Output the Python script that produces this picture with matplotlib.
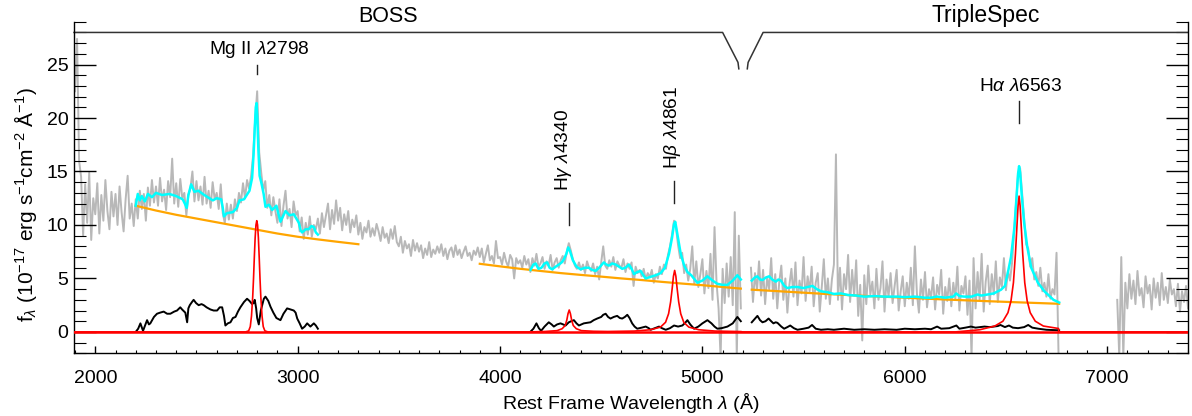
import numpy as np
import matplotlib.pyplot as plt
from matplotlib.ticker import MultipleLocator

# observed spectrum, 10 A sampling (rest frame)
boss_start = 1900
boss_flux = [
    22.5, 27.4, 16.0, 14.5, 9.0, 13.8, 10.2, 14.9, 8.6, 12.5,
    11.0, 13.9, 9.2, 12.8, 10.4, 14.2, 11.3, 9.6, 13.1, 10.8,
    12.9, 10.0, 13.6, 11.2, 9.4, 12.4, 14.6, 10.6, 12.0, 9.9,
    12.4, 10.6, 13.2, 11.5, 12.9, 10.4, 13.5, 11.8, 14.2, 12.1,
    13.6, 11.8, 14.4, 12.2, 13.3, 11.4, 14.1, 12.6, 16.2, 12.0,
    13.9, 11.7, 14.3, 12.5, 13.0, 10.9, 12.8, 13.4, 15.0, 12.2,
    14.1, 12.3, 13.6, 11.9, 14.5, 12.0, 13.2, 11.6, 14.0, 12.4,
    13.0, 11.5, 13.8, 11.1, 10.2, 12.0, 10.5, 11.9, 10.6, 12.4,
    11.3, 13.0, 12.1, 13.9, 12.5, 14.2, 13.4, 14.6, 16.5, 19.8,
    22.5, 16.8, 14.9, 13.2, 14.1, 11.6, 12.8, 10.9, 12.6, 11.3,
    10.2, 12.4, 9.9, 11.8, 13.2, 10.6, 11.5, 9.8, 12.2, 10.9,
    11.3, 9.4, 10.7, 8.7, 10.2, 9.1, 10.8, 8.9, 10.0, 9.6,
    10.6, 9.2, 11.1, 9.8, 10.9, 12.0, 9.6, 11.4, 10.1, 12.3,
    10.4, 11.6, 9.5, 11.0, 10.0, 11.3, 9.3, 10.5, 9.8, 10.9,
    9.1, 10.2, 8.7, 9.8, 9.3, 10.4, 8.9, 9.7, 9.0, 10.1,
    9.4, 8.5, 9.8, 8.8, 9.2, 8.3, 9.6, 8.7, 9.9, 8.4,
    8.0, 8.9, 7.4, 8.5, 7.8, 8.2, 7.1, 8.6, 7.6, 8.3,
    7.5, 8.1, 6.9, 7.8, 7.2, 8.4, 7.0, 7.7, 7.3, 8.0,
    7.4, 8.2, 7.1, 7.8, 6.8, 7.6, 7.9, 7.0, 8.1, 7.2,
    7.7, 6.9, 7.5, 8.0, 7.1, 7.4, 6.7, 7.6, 7.2, 7.9,
    7.0, 7.8, 6.5, 7.3, 8.1, 6.7, 7.1, 6.4, 8.5, 6.9,
    7.0, 6.3, 7.4, 6.6, 6.1, 7.2, 6.8, 5.0, 6.9, 6.4,
    6.7, 6.0, 7.1, 6.3, 6.8, 5.6, 6.9, 6.2, 7.3, 6.1,
    6.4, 7.0, 5.9, 6.6, 6.2, 7.2, 5.8, 6.5, 6.9, 6.0,
    6.7, 7.1, 6.4, 7.5, 8.3, 7.6, 6.8, 6.2, 5.9, 6.5,
    5.8, 6.3, 5.5, 6.6, 6.0, 5.7, 6.4, 5.4, 6.1, 4.9,
    6.5, 8.0, 6.2, 5.9, 6.7, 6.1, 7.0, 5.8, 6.6, 6.2,
    6.0, 6.8, 5.6, 6.4, 5.9, 6.5, 4.3, 6.1, 5.5, 5.8,
    5.2, 5.9, 4.9, 5.5, 5.1, 5.8, 4.6, 5.4, 5.0, 6.1,
    5.4, 6.3, 5.9, 7.2, 8.0, 9.1, 10.4, 9.7, 8.1, 6.9,
    7.4, 5.5, 6.3, 4.8, 5.9, 8.0, 4.5, 6.6, 4.2, 5.4,
    6.8, 3.6, 5.7, 4.1, 7.3, 3.0, 9.8, 4.6, 2.2, -2.4,
    5.9, 2.7, 6.4, 3.3, 7.0, 2.5, 11.2, -2.4, 9.0, 2.2,
]

tspec_start = 5240
tspec_flux = [
    6.0, 2.8, 5.5, 3.9, 6.6, 3.4, 5.8, 2.6, 5.1, 4.0,
    6.9, 3.1, 5.4, 2.2, 4.7, 6.2, 3.0, 5.0, 1.8, 4.4,
    5.9, 3.3, 6.5, 2.5, 4.8, 3.6, 7.0, 2.9, 5.2, 3.8,
    6.1, 2.4, 4.6, 5.5, 1.9, 4.2, 6.8, 3.1, 5.0, 2.6,
    4.9, 6.3, 16.6, 3.0, 6.0, 2.1, 5.4, 4.0, 7.2, 2.8,
    5.8, 3.4, 6.7, 1.5, 4.4, -0.8, 5.3, 2.6, 6.2, 3.5,
    4.7, 2.2, 5.9, 3.0, 4.1, 6.6, 1.9, 4.9, 3.3, 5.5,
    2.7, 4.3, 5.8, 2.0, 3.8, 5.2, 2.4, 4.6, 3.1, 6.0,
    2.5, 8.0, 3.6, 1.8, 4.9, 3.0, 5.6, 2.3, 4.0, 3.2,
    5.1, 2.1, 4.4, 3.5, 5.8, 1.7, 4.2, 2.9, 5.0, 2.4,
    4.6, 3.1, 6.1, 2.0, 4.3, 3.6, 5.2, 1.6, 4.8, -2.4,
    6.9, 2.2, 5.6, 3.0, 7.3, 1.9, 4.7, 6.2, 2.6, 5.4,
    3.5, 6.6, 2.8, 5.1, 4.2, 6.9, 3.9, 5.7, 4.8, 6.4,
    9.2, 12.0, 14.8, 15.3, 13.0, 10.6, 8.2, 7.8, 6.1, 6.9,
    4.9, 5.6, 4.3, 6.0, 3.8, 4.6, 3.3, 5.4, 3.1, 4.0,
    3.5, 7.4, -2.2,
]

tspec_red_start = 7050
tspec_red_flux = [
    3.0, -2.3, 7.0, -2.3, 4.6, 2.2, 5.4, 3.1, 4.8, 2.6,
    5.7, 3.4, 4.1, 2.3, 5.2, 3.6, 4.4, 2.1, 5.0, 3.2,
    4.6, 2.5, 5.5, 3.0, 4.2, 2.7, 4.9, 3.5, 4.0, 2.4,
    4.5, 1.9, 3.8, 2.8, 4.3, 2.2,
]
sampling = 10

# power-law continuum fits
cont_mg_wave = [2200, 2300, 2400, 2500, 2600, 2700, 2800, 2900, 3000, 3100, 3200, 3300]
cont_mg_flux = [11.8, 11.35, 10.95, 10.6, 10.25, 9.9, 9.55, 9.2, 8.9, 8.65, 8.42, 8.2]
cont_hb_wave = [3900, 4000, 4100, 4200, 4300, 4400, 4500, 4600, 4700, 4800, 4900, 5000, 5100, 5190]
cont_hb_flux = [6.37, 6.13, 5.9, 5.7, 5.5, 5.33, 5.17, 5.0, 4.85, 4.68, 4.52, 4.37, 4.2, 4.05]
cont_ha_wave = [5244, 5400, 5600, 5800, 6000, 6200, 6400, 6600, 6763]
cont_ha_flux = [3.95, 3.78, 3.56, 3.37, 3.2, 3.03, 2.88, 2.74, 2.63]

# total model
model_mg_wave = [2200, 2210, 2220, 2230, 2245, 2260, 2280, 2300, 2330, 2366, 2400, 2432, 2445,
                 2452, 2460, 2474, 2490, 2510, 2531, 2555, 2581, 2600, 2622, 2630, 2636, 2650,
                 2680, 2700, 2713, 2735, 2762, 2775, 2782, 2788, 2793, 2797, 2801, 2806, 2812,
                 2820, 2832, 2841, 2858, 2874, 2895, 2915, 2930, 2940, 2960, 2981, 3006, 3015,
                 3022, 3040, 3055, 3068, 3080, 3090, 3100]
model_mg_flux = [11.8, 12.9, 12.3, 12.7, 12.2, 12.9, 12.6, 13.0, 12.8, 12.9, 12.7, 12.4, 11.9,
                 11.6, 12.8, 13.8, 13.1, 13.2, 12.9, 12.6, 12.3, 12.5, 12.4, 11.6, 10.8, 11.1,
                 11.2, 11.6, 12.3, 12.4, 13.2, 14.4, 16.5, 19.0, 21.0, 21.4, 20.0, 17.0, 14.6,
                 14.0, 12.9, 11.7, 11.9, 11.4, 11.8, 10.3, 10.9, 11.3, 10.9, 11.0, 10.2, 9.5,
                 9.3, 9.6, 9.6, 9.9, 9.8, 9.3, 9.1]
model_hb_wave = [4151, 4165, 4176, 4190, 4205, 4220, 4233, 4245, 4258, 4275, 4291, 4305, 4316,
                 4328, 4337, 4345, 4360, 4378, 4398, 4420, 4439, 4455, 4472, 4490, 4513, 4525,
                 4538, 4555, 4571, 4588, 4604, 4620, 4637, 4650, 4662, 4678, 4695, 4708, 4720,
                 4744, 4770, 4794, 4815, 4835, 4850, 4860, 4866, 4875, 4893, 4910, 4926, 4945,
                 4975, 5000, 5025, 5050, 5074, 5100, 5124, 5150, 5173, 5190]
model_hb_flux = [5.8, 6.3, 6.4, 5.9, 6.0, 6.4, 6.5, 6.0, 5.85, 6.1, 6.3, 6.5, 6.8,
                 7.3, 7.9, 7.6, 6.7, 6.1, 5.85, 6.0, 6.0, 5.8, 5.7, 6.0, 6.5, 6.3,
                 6.2, 6.4, 6.3, 6.1, 5.9, 6.0, 6.3, 5.9, 5.4, 5.6, 5.7, 5.3, 5.0,
                 5.15, 5.3, 5.5, 6.0, 7.3, 8.8, 10.1, 10.3, 9.3, 7.3, 6.2, 5.6, 5.3,
                 4.6, 4.8, 5.2, 4.8, 4.5, 4.4, 4.4, 4.8, 5.3, 4.9]
model_ha_wave = [5244, 5260, 5272, 5285, 5297, 5315, 5330, 5345, 5363, 5375, 5388, 5405, 5420,
                 5445, 5470, 5500, 5520, 5544, 5565, 5586, 5620, 5650, 5684, 5720, 5760, 5800,
                 5850, 5900, 5965, 6000, 6050, 6100, 6130, 6160, 6200, 6240, 6254, 6270, 6295,
                 6330, 6360, 6378, 6410, 6440, 6476, 6495, 6509, 6525, 6542, 6552, 6560, 6565,
                 6570, 6578, 6590, 6605, 6625, 6658, 6690, 6707, 6735, 6763]
model_ha_flux = [4.8, 5.1, 5.2, 4.9, 4.85, 5.1, 5.2, 4.9, 4.7, 4.9, 4.8, 4.3, 4.1,
                 4.2, 4.2, 4.1, 4.2, 4.3, 4.0, 3.8, 3.7, 3.55, 3.6, 3.45, 3.4, 3.3,
                 3.35, 3.3, 3.3, 3.25, 3.3, 3.2, 3.2, 3.3, 3.2, 3.3, 3.6, 3.35, 3.3,
                 3.3, 3.5, 3.4, 3.5, 3.6, 3.95, 4.3, 5.5, 7.0, 9.8, 12.5, 14.8, 15.5,
                 14.9, 12.8, 10.2, 8.0, 6.0, 4.6, 3.8, 3.5, 3.0, 2.75]

# Fe II template
fe_mg_wave = [2201, 2212, 2223, 2236, 2248, 2256, 2265, 2272, 2290, 2305, 2320, 2338, 2355,
              2371, 2390, 2404, 2420, 2429, 2445, 2454, 2460, 2467, 2478, 2486, 2498, 2511,
              2525, 2536, 2550, 2569, 2585, 2602, 2615, 2627, 2636, 2643, 2655, 2668, 2680,
              2693, 2705, 2717, 2735, 2750, 2762, 2775, 2782, 2788, 2795, 2800, 2808, 2818,
              2833, 2841, 2855, 2866, 2880, 2895, 2915, 2930, 2948, 2965, 2981, 2990, 2998,
              3010, 3022, 3035, 3047, 3063, 3080, 3090, 3100]
fe_mg_flux = [0.03, 0.3, 0.8, 0.1, 0.7, 1.1, 0.7, 0.8, 1.4, 1.7, 1.8, 1.9, 1.7,
              1.7, 1.9, 2.0, 2.3, 2.1, 1.8, 0.9, 2.2, 2.5, 2.8, 3.0, 2.7, 2.5,
              2.6, 2.5, 2.3, 2.1, 2.0, 2.0, 2.3, 2.3, 1.5, 0.6, 0.8, 0.9, 1.3,
              1.4, 1.9, 2.3, 2.8, 3.1, 2.9, 2.6, 2.7, 3.0, 2.2, 1.3, 0.7, 2.0,
              3.1, 3.3, 2.9, 2.35, 1.8, 1.3, 1.1, 1.7, 2.2, 2.1, 2.0, 1.8, 1.25,
              0.8, 0.3, 0.5, 0.8, 0.5, 0.8, 0.6, 0.3]
fe_hb_wave = [4151, 4165, 4180, 4192, 4203, 4220, 4241, 4255, 4266, 4282, 4299, 4312, 4324,
              4340, 4352, 4365, 4378, 4390, 4402, 4414, 4430, 4447, 4463, 4480, 4500, 4510,
              4522, 4534, 4546, 4562, 4579, 4592, 4604, 4617, 4629, 4640, 4653, 4665, 4678,
              4700, 4720, 4735, 4744, 4765, 4786, 4800, 4819, 4840, 4860, 4880, 4901, 4915,
              4926, 4940, 4959, 4980, 5000, 5025, 5045, 5060, 5074, 5095, 5124, 5150, 5173,
              5190]
fe_hb_flux = [0.03, 0.3, 0.8, 0.35, 0.1, 0.5, 0.9, 0.7, 0.5, 0.7, 0.8, 0.7, 0.6,
              0.9, 1.0, 1.1, 0.8, 0.6, 0.7, 0.8, 0.85, 0.9, 1.1, 1.25, 1.4, 1.6,
              1.7, 1.4, 1.25, 1.4, 1.5, 1.3, 1.25, 1.4, 1.6, 1.3, 0.8, 0.5, 0.3,
              0.4, 0.5, 0.35, 0.2, 0.35, 0.5, 0.35, 0.2, 0.35, 0.6, 0.5, 0.6, 0.85,
              1.1, 0.7, 0.3, 0.5, 0.8, 1.1, 0.8, 0.5, 0.3, 0.35, 0.5, 0.8, 1.4,
              1.0]
fe_ha_wave = [5244, 5258, 5272, 5285, 5297, 5312, 5327, 5340, 5351, 5362, 5371, 5390, 5404,
              5420, 5434, 5452, 5470, 5500, 5525, 5542, 5560, 5586, 5620, 5650, 5700, 5750,
              5800, 5850, 5900, 5960, 6000, 6050, 6100, 6130, 6160, 6180, 6220, 6255, 6270,
              6300, 6327, 6350, 6394, 6420, 6460, 6473, 6495, 6515, 6534, 6560, 6590, 6610,
              6630, 6660, 6700, 6763]
fe_ha_flux = [0.9, 1.2, 1.5, 1.1, 0.9, 1.0, 1.25, 1.0, 0.8, 0.9, 0.85, 0.5, 0.3,
              0.45, 0.6, 0.35, 0.2, 0.3, 0.4, 0.65, 0.3, 0.2, 0.25, 0.2, 0.3, 0.2,
              0.25, 0.2, 0.25, 0.2, 0.3, 0.25, 0.3, 0.25, 0.5, 0.3, 0.35, 0.6, 0.3,
              0.4, 0.5, 0.4, 0.5, 0.45, 0.55, 0.65, 0.45, 0.6, 0.4, 0.35, 0.45, 0.65,
              0.4, 0.3, 0.2, 0.15]

# broad Balmer / Mg II line components
broad_wave = [1895, 2743, 2758, 2766, 2772, 2778, 2782, 2786, 2790, 2794, 2798, 2802, 2806,
              2810, 2814, 2818, 2824, 2830, 2838, 2853,
              4150, 4222, 4282, 4307, 4322, 4330, 4336, 4342, 4348, 4354, 4362, 4377, 4402,
              4462, 4533, 4663, 4743, 4793, 4818, 4833, 4843, 4851, 4857, 4863, 4869, 4875,
              4883, 4893, 4908, 4933, 4983, 5063, 5193, 5194,
              6250, 6370, 6445, 6485, 6510, 6525, 6537, 6547, 6555, 6560, 6565, 6570, 6575,
              6583, 6593, 6605, 6620, 6645, 6685, 6760, 6761, 7400]
broad_flux = [0, 0, 0.1, 0.5, 1.5, 3.3, 5.0, 7.0, 8.8, 10.0, 10.4, 10.0, 8.8,
              7.0, 5.0, 3.3, 1.5, 0.5, 0.1, 0,
              0, 0.04, 0.12, 0.3, 0.6, 1.1, 1.7, 2.05, 1.7, 1.1, 0.6, 0.3, 0.12,
              0.06, 0.04, 0.08, 0.2, 0.45, 0.9, 1.7, 2.8, 4.1, 5.2, 5.75, 5.2, 4.1,
              2.8, 1.7, 0.9, 0.45, 0.2, 0.08, 0.03, 0,
              0, 0.2, 0.55, 1.0, 1.8, 2.9, 4.6, 7.3, 10.1, 11.8, 12.7, 11.8, 10.1,
              7.3, 4.6, 2.9, 1.8, 1.0, 0.55, 0.32, 0, 0]

boss_range = [1895, 5180]
tspec_range = [5222, 7400]
line_names = ['Mg II', r'H$\gamma$', r'H$\beta$', r'H$\alpha$']
line_waves = [2798, 4340, 4861, 6563]


def main():
    plt.rcParams['font.family'] = ['Liberation Sans', 'DejaVu Sans']
    plt.rcParams['mathtext.fontset'] = 'custom'
    plt.rcParams['mathtext.rm'] = 'Liberation Sans'
    plt.rcParams['mathtext.it'] = 'Liberation Sans:italic'
    plt.rcParams['mathtext.bf'] = 'Liberation Sans:bold'

    fig = plt.figure(figsize=(11.92, 4.16), dpi=100)
    ax = fig.add_axes([0.0621, 0.1507, 0.9346, 0.797])

    # data
    for start, flux in [(boss_start, boss_flux), (tspec_start, tspec_flux),
                        (tspec_red_start, tspec_red_flux)]:
        wave = start + sampling * np.arange(len(flux))
        ax.plot(wave, flux, color='#b8b8b8', lw=1.4, zorder=1)

    # continuum, model, Fe II
    for w, f in [(cont_mg_wave, cont_mg_flux), (cont_hb_wave, cont_hb_flux),
                 (cont_ha_wave, cont_ha_flux)]:
        ax.plot(w, f, color='orange', lw=1.6, zorder=2)
    for w, f in [(model_mg_wave, model_mg_flux), (model_hb_wave, model_hb_flux),
                 (model_ha_wave, model_ha_flux)]:
        ax.plot(w, f, color='cyan', lw=1.8, zorder=3)
    for w, f in [(fe_mg_wave, fe_mg_flux), (fe_hb_wave, fe_hb_flux),
                 (fe_ha_wave, fe_ha_flux)]:
        ax.plot(w, f, color='black', lw=1.4, zorder=4)

    # broad components
    ax.plot([boss_range[0], tspec_range[1]], [0, 0], color='red', lw=1.8, zorder=5)
    ax.plot(broad_wave, broad_flux, color='red', lw=1.2, zorder=5)

    ax.set_xlim(1895, 7400)
    ax.set_ylim(-2, 29)

    # instrument bracket along the top
    top = 28.0
    ax.plot([boss_range[0], boss_range[1] - 80, boss_range[1] - 4, boss_range[1]],
            [top, top, 25.2, 24.6], color='#333333', lw=1.1, clip_on=False)
    ax.plot([tspec_range[0], tspec_range[0] + 4, tspec_range[0] + 78, tspec_range[1]],
            [24.6, 25.2, top, top], color='#333333', lw=1.1, clip_on=False)
    ax.text(3446, 29.0, 'BOSS', fontsize=15.5, ha='center', va='baseline', clip_on=False)
    ax.text(6401, 29.0, 'TripleSpec', fontsize=16.5, ha='center', va='baseline', clip_on=False)

    # emission line labels
    label_x = [2812, 4312, 4852, 6573]
    label_y = [25.96, 13.15, 15.2, 22.5]
    tick_lo = [24.1, 10.0, 12.05, 19.55]
    tick_hi = [25.0, 12.05, 14.1, 21.6]
    rotated = [False, True, True, False]
    for i, name in enumerate(line_names):
        text = name + r' $\lambda$' + str(line_waves[i])
        if rotated[i]:
            ax.text(label_x[i], label_y[i], text, fontsize=13.8, rotation=90,
                    ha='center', va='bottom')
        else:
            ax.text(label_x[i], label_y[i], text, fontsize=13.8, ha='center', va='baseline')
        ax.plot([line_waves[i], line_waves[i]], [tick_lo[i], tick_hi[i]],
                color='#222222', lw=1.0)

    # axes styling
    ax.spines['top'].set_visible(False)
    for side in ['left', 'right', 'bottom']:
        ax.spines[side].set_linewidth(1.0)
    ax.xaxis.set_major_locator(MultipleLocator(1000))
    ax.xaxis.set_minor_locator(MultipleLocator(100))
    ax.yaxis.set_major_locator(MultipleLocator(5))
    ax.yaxis.set_minor_locator(MultipleLocator(1))
    ax.tick_params(axis='x', which='both', direction='in', top=False, labelsize=14, pad=12)
    ax.tick_params(axis='x', which='major', length=5.4, width=1.0)
    ax.tick_params(axis='x', which='minor', length=2.5, width=0.8)
    ax.tick_params(axis='y', which='both', direction='in', left=True, right=True,
                   labelsize=14, pad=4)
    ax.tick_params(axis='y', which='major', length=15.8, width=1.0)
    ax.tick_params(axis='y', which='minor', length=8.4, width=0.8)

    ax.set_xlabel(r'Rest Frame Wavelength $\lambda$ (Å)', fontsize=14, labelpad=3)
    ax.set_ylabel(r'f$_\lambda$ (10$^{-17}$ erg s$^{-1}$cm$^{-2}$ Å$^{-1}$)', fontsize=15)
    ax.yaxis.set_label_coords(-0.031, 0.45)

    fig.savefig('out.png', dpi=100)
    print("Saved out.png")


if __name__ == "__main__":
    main()
